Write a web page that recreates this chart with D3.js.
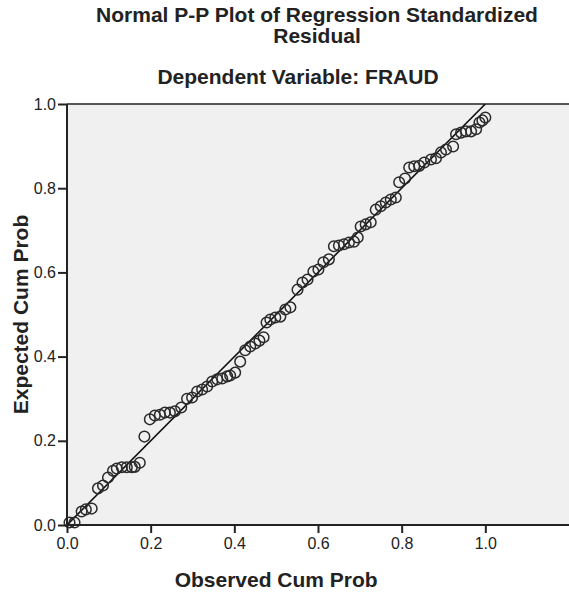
<!DOCTYPE html>
<html>
<head>
<meta charset="utf-8">
<style>
  body { margin: 0; background: #fff; }
  svg text { font-family: "Liberation Sans", Arial, sans-serif; fill: #222; }
  .title { font-weight: bold; font-size: 21px; }
  .axis-title { font-weight: bold; font-size: 21px; }
  .axis path, .axis line { stroke: #222; stroke-width: 2; }
  .axis text { font-size: 16px; }
  .dot { fill: none; stroke: #2a2a2a; stroke-width: 1.5; }
</style>
</head>
<body>
<svg width="569" height="593"></svg>
<script src="https://d3js.org/d3.v7.min.js"></script>
<script>
// observed cumulative probability (x) and expected cumulative probability (y)
var observed = [0.006, 0.018, 0.035, 0.045, 0.059, 0.074, 0.086, 0.098, 0.110, 0.119,
  0.131, 0.143, 0.155, 0.162, 0.174, 0.185, 0.198, 0.210, 0.222, 0.234,
  0.246, 0.258, 0.273, 0.287, 0.299, 0.311, 0.323, 0.335, 0.347, 0.359,
  0.371, 0.383, 0.390, 0.402, 0.414, 0.426, 0.438, 0.450, 0.460, 0.470,
  0.477, 0.486, 0.498, 0.510, 0.522, 0.534, 0.551, 0.563, 0.575, 0.589,
  0.601, 0.613, 0.626, 0.638, 0.650, 0.662, 0.674, 0.686, 0.695, 0.702,
  0.714, 0.726, 0.738, 0.750, 0.762, 0.774, 0.786, 0.794, 0.808, 0.818,
  0.830, 0.842, 0.854, 0.870, 0.882, 0.894, 0.906, 0.923, 0.930, 0.942,
  0.954, 0.966, 0.978, 0.986, 0.993, 1.000];
var expected = [0.006, 0.006, 0.032, 0.037, 0.039, 0.087, 0.094, 0.113, 0.129, 0.134,
  0.137, 0.137, 0.137, 0.138, 0.148, 0.210, 0.251, 0.260, 0.262, 0.267,
  0.267, 0.270, 0.279, 0.300, 0.303, 0.317, 0.322, 0.329, 0.341, 0.346,
  0.348, 0.353, 0.355, 0.362, 0.388, 0.415, 0.424, 0.431, 0.438, 0.446,
  0.481, 0.488, 0.493, 0.495, 0.512, 0.517, 0.559, 0.576, 0.583, 0.602,
  0.607, 0.624, 0.631, 0.662, 0.664, 0.667, 0.671, 0.673, 0.683, 0.709,
  0.714, 0.719, 0.749, 0.757, 0.766, 0.773, 0.778, 0.814, 0.823, 0.849,
  0.852, 0.853, 0.861, 0.868, 0.871, 0.885, 0.892, 0.899, 0.928, 0.932,
  0.935, 0.935, 0.940, 0.956, 0.961, 0.968];
var tickValues = [0, 0.2, 0.4, 0.6, 0.8, 1.0];

var titleLines = ["Normal P-P Plot of Regression Standardized", "Residual"];
var subtitle = "Dependent Variable: FRAUD";

var svg = d3.select("svg"),
  margin = { top: 104, right: 0, bottom: 68, left: 67 },
  width = +svg.attr("width") - margin.left - margin.right,
  height = +svg.attr("height") - margin.top - margin.bottom;

var x = d3.scaleLinear().domain([0, 1.2]).range([0, width]),
  y = d3.scaleLinear().domain([0, 1]).range([height, 0]);

var g = svg.append("g")
  .attr("transform", "translate(" + margin.left + "," + margin.top + ")");

g.append("rect")
  .attr("width", width)
  .attr("height", height)
  .attr("fill", "#f0f0f0");

// top frame line
g.append("line")
  .attr("x1", 0).attr("x2", width)
  .attr("y1", 0).attr("y2", 0)
  .attr("stroke", "#555")
  .attr("stroke-width", 2);

g.append("defs").append("clipPath").attr("id", "clip")
  .append("rect").attr("width", width).attr("height", height);

g.append("line")
  .attr("clip-path", "url(#clip)")
  .attr("x1", x(0)).attr("y1", y(0))
  .attr("x2", x(1)).attr("y2", y(1))
  .attr("stroke", "#111")
  .attr("stroke-width", 1.6);

g.selectAll(".dot")
  .data(observed)
  .enter().append("circle")
  .attr("class", "dot")
  .attr("cx", function(d) { return x(d); })
  .attr("cy", function(d, i) { return y(expected[i]); })
  .attr("r", 5.3);

g.append("g")
  .attr("class", "axis axis--x")
  .attr("transform", "translate(0," + height + ")")
  .call(d3.axisBottom(x).tickValues(tickValues).tickFormat(d3.format(".1f")).tickSize(8).tickPadding(5))
  .call(function(a) { a.select(".domain").attr("d", "M0,0H" + width); });

g.append("g")
  .attr("class", "axis axis--y")
  .call(d3.axisLeft(y).tickValues(tickValues).tickFormat(d3.format(".1f")).tickSize(9).tickPadding(2))
  .call(function(a) { a.select(".domain").attr("d", "M0,0V" + height); });

svg.append("text")
  .attr("class", "axis-title")
  .attr("x", margin.left + x(0.5))
  .attr("y", 587)
  .attr("text-anchor", "middle")
  .text("Observed Cum Prob");

svg.append("text")
  .attr("class", "axis-title")
  .attr("transform", "translate(28," + (margin.top + y(0.5)) + ") rotate(-90)")
  .attr("text-anchor", "middle")
  .text("Expected Cum Prob");

svg.selectAll(".title")
  .data(titleLines)
  .enter().append("text")
  .attr("class", "title")
  .attr("x", 317)
  .attr("y", function(d, i) { return 22 + i * 21; })
  .attr("text-anchor", "middle")
  .text(function(d) { return d; });

svg.append("text")
  .attr("class", "title")
  .attr("x", 298)
  .attr("y", 84)
  .attr("text-anchor", "middle")
  .text(subtitle);
</script>
</body>
</html>
